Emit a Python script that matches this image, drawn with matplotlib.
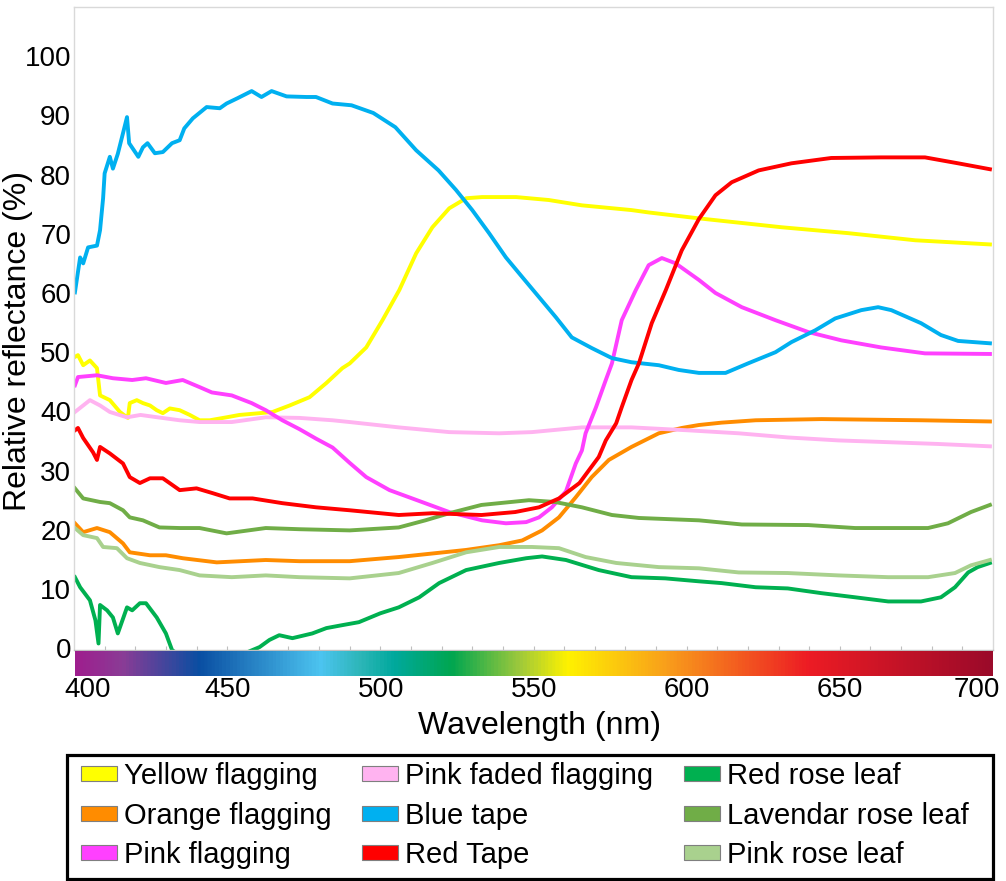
import numpy as np
import matplotlib
matplotlib.use("Agg")
import matplotlib.pyplot as plt
from matplotlib.colors import LinearSegmentedColormap
from matplotlib.patches import Patch, Rectangle
from matplotlib.transforms import ScaledTranslation

plt.rcParams['font.family'] = ['Liberation Sans', 'DejaVu Sans']

# ---------------- data ----------------
yellow_wl = [400.3, 401.3, 403, 405.2, 407.5, 408.5, 411.7, 415, 417.6, 418.2, 420.5, 422.5, 424.8, 427, 429,
             431.3, 434.5, 437.8, 441, 444.3, 449.8, 454, 460.6, 464.8, 470.4, 476.9, 482.4, 487.6, 490, 495.4,
             500.7, 506.2, 511.7, 517, 522.5, 528, 533.2, 544.3, 555, 565.8, 582, 587.6, 604, 609.4, 631, 652.8,
             674.6, 699]
yellow_r = [49.2, 49.5, 47.8, 48.6, 47.3, 42.7, 41.9, 39.9, 38.9, 41.4, 41.9, 41.4, 41, 40.2, 39.7,
            40.5, 40.2, 39.4, 38.5, 38.5, 39, 39.4, 39.7, 39.9, 41, 42.4, 44.8, 47.3, 48.1, 50.8,
            55.4, 60.5, 66.7, 71.1, 74.3, 76, 76.2, 76.2, 75.7, 74.8, 74, 73.6, 72.6, 72.3, 71.1, 70.1,
            68.9, 68.2]

orange_wl = [400.3, 403, 407.5, 411.7, 416, 418.2, 424.8, 430, 435.5, 446.6, 462.6, 473.6, 490, 506, 517, 528,
             538.8, 546.3, 552.8, 558.3, 563.8, 569, 574.6, 582, 590.9, 598.4, 600.6, 604, 611.4, 622.5, 644,
             676.5, 699]
orange_r = [21.1, 19.6, 20.3, 19.6, 17.7, 16.2, 15.7, 15.7, 15.2, 14.5, 14.9, 14.7, 14.7, 15.4, 16, 16.6,
            17.4, 18.2, 19.9, 22.1, 25.5, 28.9, 31.8, 34, 36.3, 37.2, 37.4, 37.7, 38.1, 38.5, 38.7,
            38.5, 38.3]

pink_wl = [400.3, 401.3, 407.5, 412.7, 419, 423.5, 430, 435.5, 441, 445, 451.5, 458, 462.6, 468, 473.6, 479,
           484.4, 490, 495.4, 503, 510.4, 522.5, 533.2, 541, 547.6, 551.8, 556, 560.6, 563.8, 565.8, 567,
           570.4, 573.6, 575.6, 578.8, 583.4, 587.6, 591.9, 596.4, 604, 609.4, 618, 629, 639.7, 650.5, 663.5,
           677.8, 699]
pink_r = [44.4, 45.8, 46.1, 45.6, 45.3, 45.6, 44.8, 45.3, 44.1, 43.2, 42.7, 41.4, 40.2, 38.5, 37.0, 35.4,
          33.9, 31.3, 28.9, 26.7, 25.3, 23, 21.6, 21.1, 21.3, 22.1, 23.8, 26.5, 31.2, 33.4, 36.3,
          40.7, 45.3, 48.1, 55.4, 60.5, 64.7, 65.9, 65, 62.2, 60, 57.6, 55.4, 53.4, 52, 50.8,
          49.8, 49.7]

faded_wl = [400.3, 403, 405.2, 408.5, 411.7, 417.3, 421.7, 427.3, 434.5, 441, 451.5, 462.6, 473.6, 484.4, 490,
            506, 522.5, 538.8, 549.5, 565.8, 582, 600.6, 617, 633, 649.5, 665.8, 682, 699]
faded_r = [39.9, 41, 41.9, 41, 39.9, 39, 39.4, 39, 38.5, 38.2, 38.2, 39, 38.9, 38.5, 38.2,
           37.3, 36.5, 36.3, 36.5, 37.3, 37.3, 36.8, 36.3, 35.6, 35.1, 34.8, 34.5, 34.1]

blue_wl = [400.3, 402, 403, 404.6, 407.5, 408.5, 409.5, 410, 411.7, 412.7, 414.3, 416, 417.3, 418, 421, 422.5,
           424, 426.4, 429, 432, 434.5, 436, 438.8, 443.3, 447.6, 449.8, 453.4, 458, 461.2, 464.5, 469.4,
           475.9, 479, 484.4, 490.6, 497.7, 504.9, 511.7, 519, 524.7, 530, 535.5, 541, 546.3, 551.8, 557.3,
           562.5, 569, 575.6, 582, 590.9, 597.4, 604, 612.7, 620, 629, 634.2, 642, 648.5, 657, 662.5, 666.8,
           676.5, 683, 688.6, 699]
blue_r = [60.1, 66, 65, 67.7, 68, 70.6, 76, 80.2, 83, 81, 83.5, 87, 89.7, 85.3, 83, 84.6,
          85.3, 83.6, 83.8, 85.3, 85.8, 87.8, 89.5, 91.4, 91.2, 92, 92.9, 94.1, 93.1, 94.1, 93.2,
          93.1, 93.1, 92, 91.7, 90.4, 88, 84.1, 80.7, 77.4, 74, 70.1, 66, 62.7, 59.3, 55.9,
          52.5, 50.7, 49, 48.3, 47.8, 47, 46.5, 46.5, 48.1, 50, 51.7, 53.7, 55.7, 57.1, 57.6, 57.1,
          54.9, 52.9, 51.9, 51.5]

redtape_wl = [400.3, 401.3, 403, 406.2, 407.5, 408.5, 411.7, 416, 418.2, 421.5, 424.8, 429, 434.5, 440, 445.2,
              450.8, 458.3, 468, 479, 490, 506, 517, 533, 544, 551.8, 558.3, 565, 571.3, 573.6, 577, 578.8,
              582, 584.4, 588.6, 593.2, 598.4, 604, 609.4, 614.7, 623.5, 634.2, 647.2, 663.5, 677.8,
              688.6, 699]
redtape_r = [36.8, 37.2, 35.5, 33.1, 31.8, 34, 32.9, 31.2, 28.9, 27.9, 28.7, 28.7, 26.7, 27, 26.2,
             25.3, 25.3, 24.5, 23.8, 23.3, 22.5, 22.8, 22.5, 23, 23.8, 25.3, 27.9, 32.3, 35.1, 38, 40.7,
             45.3, 48.1, 54.9, 60.5, 67.2, 72.5, 76.5, 78.7, 80.7, 81.9, 82.8, 82.9, 82.9,
             81.9, 80.9]

redleaf_wl = [400.3, 402, 405.2, 407, 408, 408.5, 410.8, 412.7, 414.3, 417.3, 419, 421.5, 423.5, 427, 430, 432,
              436, 447, 456, 460.6, 463.8, 467, 471.3, 477.8, 482.4, 487.6, 493, 500, 506, 512.7, 519.2, 528,
              538.8, 547.6, 552.8, 560.6, 571.3, 582, 593, 604, 611.4, 622.5, 633, 644, 655, 665.8, 676.5, 683,
              687.6, 691.9, 695, 699]
redleaf_r = [12, 10.3, 8.1, 4.7, 0.8, 7.3, 6.4, 5.2, 2.5, 6.9, 6.4, 7.6, 7.6, 5.2, 2.5, -0.3,
             -1.8, -0.8, -0.8, 0.2, 1.4, 2.2, 1.7, 2.5, 3.4, 3.9, 4.4, 5.9, 6.9, 8.6, 11, 13.2,
             14.4, 15.2, 15.5, 14.9, 13.2, 12, 11.8, 11.3, 11, 10.3, 10.1, 9.3, 8.6, 7.9, 7.9, 8.6,
             10.3, 12.8, 13.7, 14.4]

lavleaf_wl = [400.3, 403, 408.5, 411.7, 416, 418.2, 422.5, 427.9, 434.5, 441, 449.8, 462.6, 473.6, 490, 506,
              514.7, 522.5, 533, 548.5, 557, 565.8, 575.6, 584.4, 604, 618, 639.7, 655, 678.8, 685.3, 692.8, 699]
lavleaf_r = [27, 25.3, 24.7, 24.5, 23.3, 22.1, 21.6, 20.4, 20.3, 20.3, 19.4, 20.3, 20.1, 19.9, 20.4,
             21.6, 22.8, 24.2, 25, 24.7, 23.8, 22.5, 22, 21.6, 20.9, 20.8, 20.3, 20.3, 21.1, 23, 24.2]

pinkleaf_wl = [400.3, 403, 407.5, 409.5, 414, 417.3, 421.5, 427.9, 434.5, 441, 451.5, 462.6, 473.6, 490, 506,
               517, 528, 538.8, 549.5, 558.3, 567, 577, 590.9, 604, 617, 633, 649.5, 665.8, 678.8, 687.6,
               692.8, 699]
pinkleaf_r = [20.3, 19.1, 18.6, 17.1, 16.9, 15.2, 14.4, 13.7, 13.2, 12.3, 12, 12.3, 12, 11.8, 12.7,
              14.4, 16.2, 17.1, 17.1, 16.9, 15.4, 14.4, 13.7, 13.5, 12.8, 12.7, 12.3, 12, 12, 12.7,
              14, 14.9]

labels = ["Yellow flagging", "Orange flagging", "Pink flagging",
          "Pink faded flagging", "Blue tape", "Red Tape",
          "Red rose leaf", "Lavendar rose leaf", "Pink rose leaf"]
colors = ["#FFFF00", "#FF8C00", "#FF40FF",
          "#FFB3F0", "#00B0F0", "#FF0000",
          "#00B050", "#70AD47", "#A9D18E"]
series = [(yellow_wl, yellow_r), (orange_wl, orange_r), (pink_wl, pink_r),
          (faded_wl, faded_r), (blue_wl, blue_r), (redtape_wl, redtape_r),
          (redleaf_wl, redleaf_r), (lavleaf_wl, lavleaf_r), (pinkleaf_wl, pinkleaf_r)]
draw_order = [0, 1, 3, 2, 6, 7, 8, 4, 5]

xticks = [400, 450, 500, 550, 600, 650, 700]
yticks = list(range(0, 101, 10))

# spectrum colour bar stops (wavelength, colour)
spec_wl = [400, 415, 440, 480, 493, 504, 523, 545, 561, 593, 640, 700]
spec_col = ["#9E1F8E", "#8A3C96", "#0A4EA2", "#4CC4F0", "#2DB6B8", "#00A99D",
            "#00A650", "#9CC83C", "#FFF200", "#F9A01B", "#ED1C24", "#9B0A2A"]

# ---------------- figure ----------------
W, H = 1006, 881
fig = plt.figure(figsize=(W / 100, H / 100), dpi=100)

def fax(x0, y0, x1, y1):
    return fig.add_axes([x0 / W, 1 - y1 / H, (x1 - x0) / W, (y1 - y0) / H])

ax = fax(74, 7, 993, 650)
for i in draw_order:
    wl, r = series[i]
    ax.plot(wl, r, color=colors[i], lw=2.8, solid_joinstyle='round')

ax.set_xlim(400, 700)
ax.set_ylim(-0.3, 108.3)
ax.set_yticks(yticks)
ax.set_yticklabels([str(v) for v in yticks], fontsize=20)
ax.tick_params(axis='y', length=0, pad=2)
ax.set_xticks(np.arange(410, 700, 10))
ax.tick_params(axis='x', direction='in', length=3, width=0.8, color='#BFBFBF', labelbottom=False)
for s in ['left', 'top', 'right']:
    ax.spines[s].set_color('#D9D9D9')
    ax.spines[s].set_linewidth(1.0)
ax.spines['bottom'].set_color('#BFBFBF')
ax.spines['bottom'].set_linewidth(1.0)
ax.set_ylabel("Relative reflectance (%)", fontsize=23, labelpad=2)
ax.yaxis.set_label_coords(-0.045, 0.48)

# colour bar
cax = fax(75, 651, 993, 676)
spec_norm = [(w - spec_wl[0]) / (spec_wl[-1] - spec_wl[0]) for w in spec_wl]
cmap = LinearSegmentedColormap.from_list("spec", list(zip(spec_norm, spec_col)))
grad = np.linspace(400, 700, 900)[None, :]
cax.imshow(grad, aspect='auto', cmap=cmap, vmin=400, vmax=700, extent=[400, 700, 0, 1])
cax.set_xlim(400, 700)
cax.set_yticks([])
cax.set_xticks(xticks)
cax.set_xticklabels([str(v) for v in xticks], fontsize=20)
cax.tick_params(axis='x', length=0, pad=1)
for s in cax.spines.values():
    s.set_visible(False)
tl = cax.get_xticklabels()
tl[0].set_transform(tl[0].get_transform() + ScaledTranslation(13 / 100, 0, fig.dpi_scale_trans))
tl[-1].set_transform(tl[-1].get_transform() + ScaledTranslation(-16 / 100, 0, fig.dpi_scale_trans))

fig.text(539 / W, 1 - 726 / H, "Wavelength (nm)", fontsize=23, ha='center', va='center')

# legend
handles = [Patch(facecolor=c, edgecolor='#7F7F7F', linewidth=0.8) for c in colors]
fig.legend(handles, labels, ncol=3, fontsize=21, frameon=False,
           loc='upper left', bbox_to_anchor=(81 / W, 1 - 762 / H),
           handlelength=1.23, handleheight=0.41, handletextpad=0.24,
           labelspacing=0.4, columnspacing=1.05, borderpad=0, borderaxespad=0)
fig.patches.append(Rectangle((67 / W, 1 - 879 / H), (993 - 67) / W, (879 - 755) / H,
                             transform=fig.transFigure, fill=False, edgecolor='black',
                             linewidth=2.3))

fig.savefig("out.png", dpi=100)
